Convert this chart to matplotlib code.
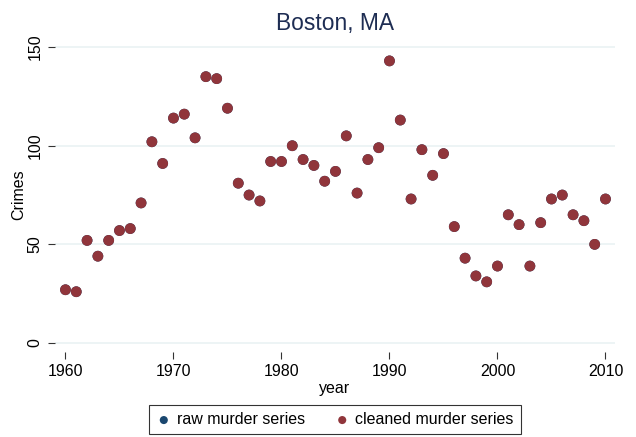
import numpy as np
import matplotlib.pyplot as plt

plt.rcParams['font.family'] = ['Liberation Sans', 'DejaVu Sans']

years = np.arange(1960, 2011)
crimes = [27, 26, 52, 44, 52, 57, 58, 71, 102, 91,
          114, 116, 104, 135, 134, 119, 81, 75, 72, 92,
          92, 100, 93, 90, 82, 87, 105, 76, 93, 99,
          143, 113, 73, 98, 85, 96, 59, 43, 34, 31,
          39, 65, 60, 39, 61, 73, 75, 65, 62, 50,
          73]
raw = crimes  # raw series sits under the cleaned one

xticks = [1960, 1970, 1980, 1990, 2000, 2010]
yticks = [0, 50, 100, 150]

fig = plt.figure(figsize=(6.36, 4.37), dpi=100)
ax = fig.add_axes([55/636, 1 - 352/437, 560/636, 314/437])

ax.scatter(years, raw, s=60, color='#1a476f', edgecolor='none', label='raw murder series', zorder=3)
ax.scatter(years, crimes, s=60, color='#90353b', edgecolor='none', label='cleaned murder series', zorder=4)

ax.set_xlim(1959.03, 2010.88)
ax.set_ylim(-4.56, 154.6)
ax.set_xticks(xticks)
ax.set_yticks(yticks)
ax.set_yticklabels([str(v) for v in yticks], rotation=90, va='center')
ax.tick_params(axis='both', labelsize=11.5, length=5, width=0.8, color='#333333', pad=4)
for s in ax.spines.values():
    s.set_visible(False)
ax.grid(axis='y', color='#eaf2f3', linewidth=1.2)
ax.set_axisbelow(True)

ax.set_title('Boston, MA', fontsize=16.4, color='#1e2d53', pad=6)
ax.set_xlabel('year', fontsize=11.5, labelpad=1)
ax.set_ylabel('Crimes', fontsize=11.5, labelpad=1)

leg = ax.legend(loc='upper center', bbox_to_anchor=(0.5, -0.169), ncol=2, frameon=True,
                fancybox=False, edgecolor='black', fontsize=11.5, handletextpad=0.35,
                handlelength=0.9, columnspacing=1.9, borderpad=0.45, borderaxespad=0,
                scatterpoints=1, markerscale=0.75)
leg.get_frame().set_linewidth(0.8)

fig.savefig('out.png', dpi=100, facecolor='white')
